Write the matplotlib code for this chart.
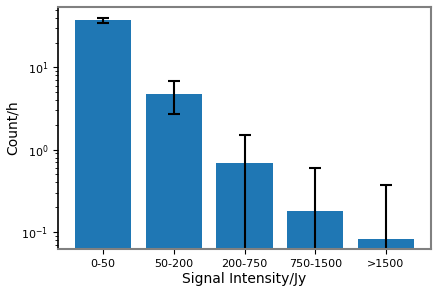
import matplotlib
matplotlib.use("Agg")
import matplotlib.pyplot as plt

categories = ["0-50", "50-200", "200-750", "750-1500", ">1500"]
counts = [37.4, 4.8, 0.69, 0.18, 0.082]
errors = [2.4, 2.1, 0.83, 0.42, 0.29]

fig = plt.figure(figsize=(4.39, 2.94), dpi=100)
ax = fig.add_axes([0.132, 0.153, 0.850, 0.823])

ax.bar(categories, counts, color="#1f77b4", yerr=errors,
       capsize=4, error_kw=dict(ecolor="black", elinewidth=1.5, capthick=1.5))
ax.set_yscale("log")
ax.set_ylim(0.062, 54)

ax.set_xlabel("Signal Intensity/Jy", fontsize=10, labelpad=2)
ax.set_ylabel("Count/h", fontsize=10, labelpad=1)
ax.tick_params(labelsize=8)

for side in ["top", "right", "bottom"]:
    ax.spines[side].set_color("gray")
    ax.spines[side].set_linewidth(1.5)
ax.spines["left"].set_linewidth(1.2)

fig.savefig("out.png", dpi=100)
